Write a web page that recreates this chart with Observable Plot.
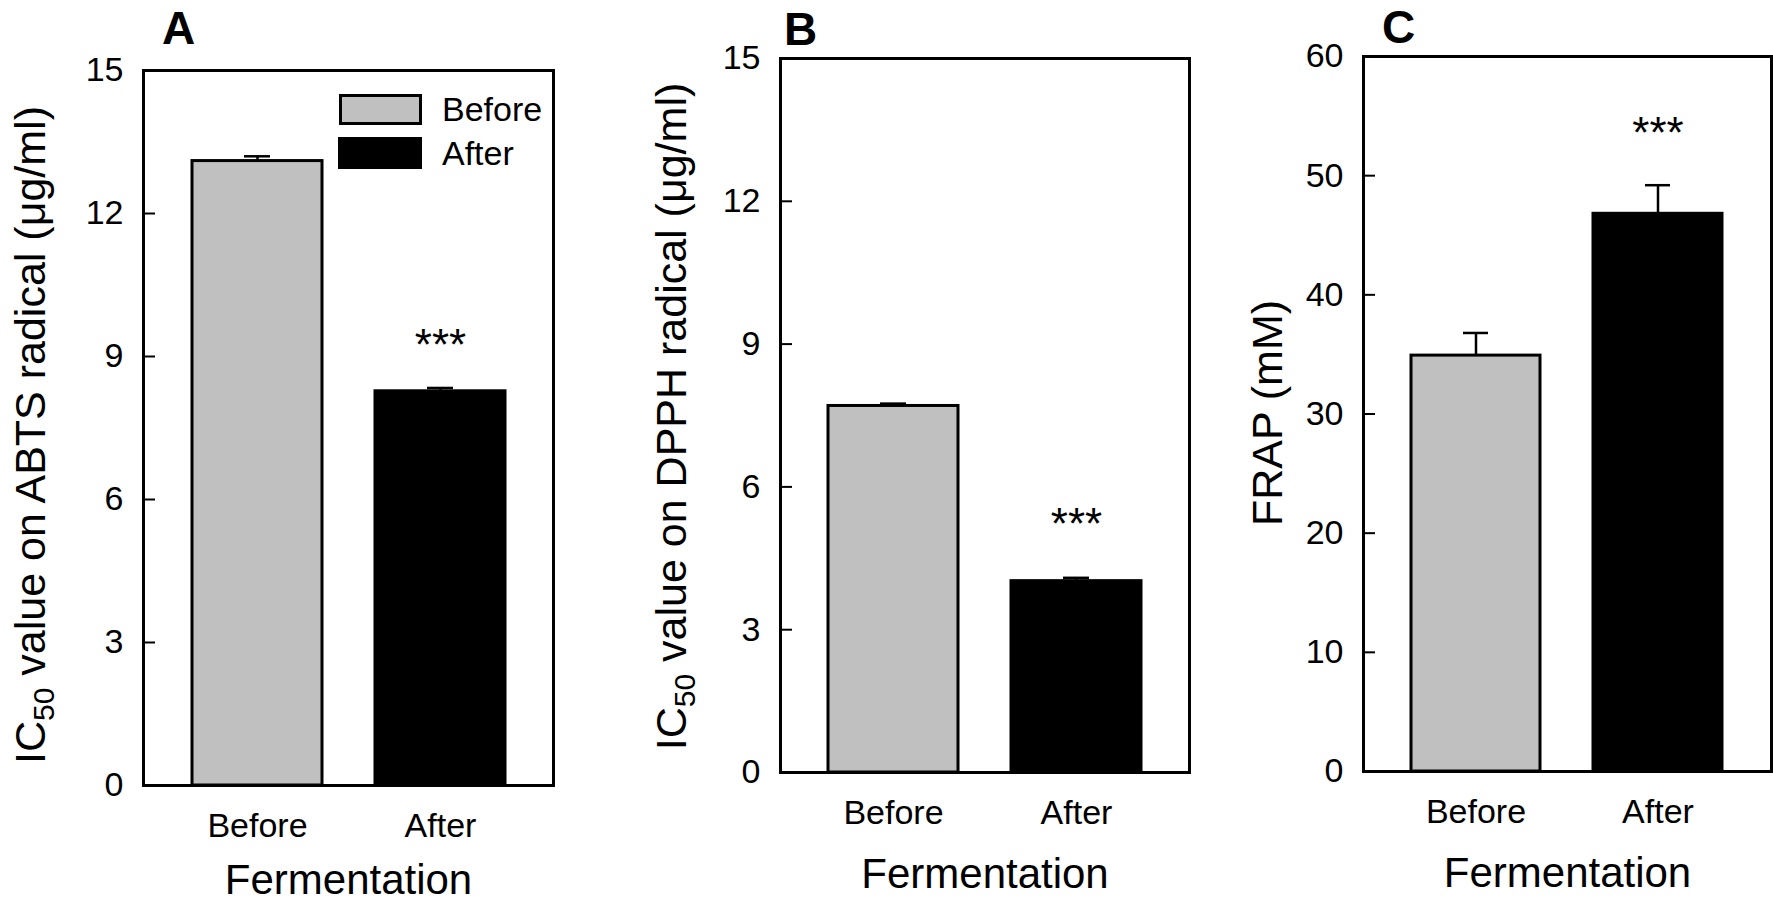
<!DOCTYPE html>
<html>
<head>
<meta charset="utf-8">
<script src="https://cdn.jsdelivr.net/npm/d3@7"></script>
<script src="https://cdn.jsdelivr.net/npm/@observablehq/plot@0.6"></script>
<style>
  body { margin: 0; background: #fff; }
  #wrap { position: relative; width: 1773px; height: 903px; overflow: hidden; background: #fff;
          font-family: "Liberation Sans", Arial, sans-serif; color: #000; }
  .lg-box { position: absolute; box-sizing: border-box; border: 3px solid #000; }
  .lg-text { position: absolute; font-size: 34px; line-height: 34px; white-space: nowrap; }
</style>
</head>
<body>
<div id="wrap"></div>
<script>
// ---------- data ----------
const categories = ["Before", "After"];
const abtsMean = [13.1, 8.27];
const abtsErr  = [0.1, 0.07];
const dpphMean = [7.70, 4.02];
const dpphErr  = [0.05, 0.07];
const frapMean = [34.9, 46.8];
const frapErr  = [1.9, 2.4];
const sigMarks = ["", "***"];
const ticksIC  = [0, 3, 6, 9, 12, 15];
const ticksFRAP = [0, 10, 20, 30, 40, 50, 60];
const yLabelA = ["IC", "50", " value on ABTS radical (μg/ml)"];
const yLabelB = ["IC", "50", " value on DPPH radical (μg/ml)"];
const yLabelC = ["FRAP (mM)"];
const xTitle = "Fermentation";
const legendLabels = ["Before", "After"];

// ---------- styles ----------
const FONT = '"Liberation Sans", Arial, sans-serif';
const barColors = ["#c0c0c0", "#000000"];
const wrap = document.getElementById("wrap");

function makePanel(cfg) {
  const data = categories.map((cat, i) => ({cat, v: cfg.means[i], e: cfg.errs[i], sig: sigMarks[i]}));
  const fw = cfg.width - cfg.mL - cfg.mR;
  const labelText = cfg.yLabel.join("");
  const chart = Plot.plot({
    width: cfg.width,
    height: 903,
    marginLeft: cfg.mL, marginRight: cfg.mR, marginTop: cfg.mT, marginBottom: cfg.mB,
    style: {fontFamily: FONT, fontSize: "34px", background: "transparent", overflow: "visible", color: "#000"},
    x: {domain: categories, paddingInner: 0.29, paddingOuter: 0.26},
    y: {domain: cfg.domain},
    color: {domain: categories, range: barColors},
    marks: [
      Plot.barY(data, {x: "cat", y: "v", fill: "cat", stroke: "#000", strokeWidth: 3}),
      Plot.ruleX(data, {x: "cat", y1: "v", y2: d => d.v + d.e, stroke: "#000", strokeWidth: 2.5}),
      Plot.tickY(data, {x: "cat", y: d => d.v + d.e, insetLeft: 52, insetRight: 52, stroke: "#000", strokeWidth: 2.5}),
      Plot.text(data.filter(d => d.sig), {x: "cat", y: d => d.v + d.e, text: "sig", lineAnchor: "bottom",
        dy: cfg.starDy, fontSize: 44, fill: "#000"}),
      Plot.ruleY(cfg.ticks, {insetRight: fw - 12, stroke: "#000", strokeWidth: 2}),
      Plot.frame({stroke: "#000", strokeWidth: 3}),
      Plot.axisY({ticks: cfg.ticks, tickSize: 0, tickPadding: 20, label: null, fontSize: 34}),
      Plot.axisX({tickSize: 0, tickPadding: 27, label: null, fontSize: 34}),
      Plot.text([labelText], {frameAnchor: "left", textAnchor: "middle", lineAnchor: "middle", rotate: -90,
        dx: cfg.ylDx, dy: cfg.ylDy, fontSize: 43, fill: "#000"}),
      Plot.text([xTitle], {frameAnchor: "bottom", textAnchor: "middle", lineAnchor: "middle", dy: cfg.xtDy, fontSize: 42, fill: "#000"}),
      Plot.text([cfg.letter], {frameAnchor: "top-left", textAnchor: "middle", lineAnchor: "middle",
        dx: cfg.letterDx, dy: cfg.letterDy, fontSize: 46, fontWeight: "bold", fill: "#000"})
    ]
  });
  chart.style.position = "absolute";
  chart.style.left = cfg.left + "px";
  chart.style.top = "0px";
  // subscript for IC50
  if (cfg.yLabel.length === 3) {
    d3.select(chart).selectAll("text").filter(function() { return this.textContent === labelText; })
      .each(function() {
        const t = d3.select(this);
        t.text("");
        t.append("tspan").text(cfg.yLabel[0]);
        t.append("tspan").attr("font-size", 30).attr("dy", 9).text(cfg.yLabel[1]);
        t.append("tspan").attr("dy", -9).text(cfg.yLabel[2]);
      });
  }
  wrap.appendChild(chart);
}

makePanel({left: 0, width: 600, mL: 143, mR: 47, mT: 70, mB: 118,
  means: abtsMean, errs: abtsErr, domain: [0, 15], ticks: ticksIC, yLabel: yLabelA,
  ylDx: -112, ylDy: 7, xtDy: 95, letter: "A", letterDx: 35, letterDy: -41, starDy: -28});
makePanel({left: 600, width: 600, mL: 180, mR: 11, mT: 58, mB: 131,
  means: dpphMean, errs: dpphErr, domain: [0, 15], ticks: ticksIC, yLabel: yLabelB,
  ylDx: -108, ylDy: 1, xtDy: 102, letter: "B", letterDx: 20, letterDy: -28, starDy: -39});
makePanel({left: 1180, width: 593, mL: 183, mR: 2, mT: 56, mB: 132,
  means: frapMean, errs: frapErr, domain: [0, 60], ticks: ticksFRAP, yLabel: yLabelC,
  ylDx: -95, ylDy: -1, xtDy: 102, letter: "C", letterDx: 35, letterDy: -28, starDy: -37});

// legend inside panel A
const lg = [
  {label: legendLabels[0], color: barColors[0], box: [339, 94, 83, 31], text: [442, 92]},
  {label: legendLabels[1], color: barColors[1], box: [338, 137, 84, 32], text: [442, 136]}
];
for (const l of lg) {
  const b = document.createElement("div");
  b.className = "lg-box";
  Object.assign(b.style, {left: l.box[0] + "px", top: l.box[1] + "px", width: l.box[2] + "px", height: l.box[3] + "px", background: l.color});
  wrap.appendChild(b);
  const t = document.createElement("div");
  t.className = "lg-text";
  t.textContent = l.label;
  Object.assign(t.style, {left: l.text[0] + "px", top: l.text[1] + "px"});
  wrap.appendChild(t);
}
</script>
</body>
</html>
